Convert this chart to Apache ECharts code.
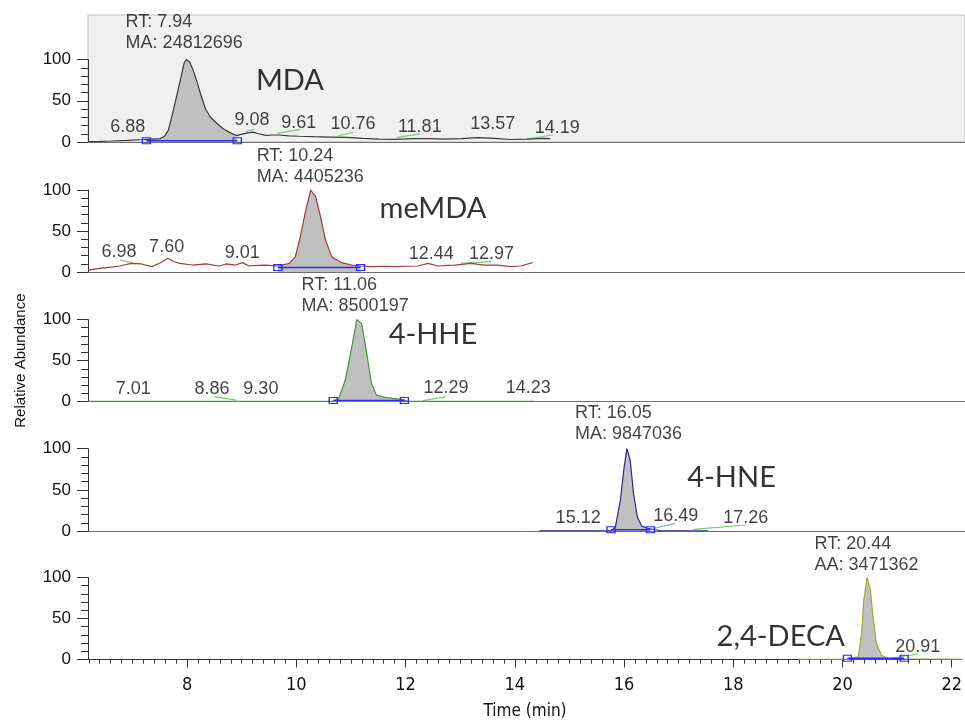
<!DOCTYPE html>
<html>
<head>
<meta charset="utf-8">
<script src="https://cdn.jsdelivr.net/npm/echarts@6.0.0/dist/echarts.min.js"></script>
<style>
html, body { margin: 0; padding: 0; background: #fff; }
#chart { width: 965px; height: 722px; }
</style>
</head>
<body>
<div id="chart"></div>
<script>
// time axis (min)
var timeMin = 6.185;
var timeMax = 22.19;
var timeTicks = [8, 10, 12, 14, 16, 18, 20, 22];
var abundanceTicks = [0, 50, 100];

// traces: [time, relative abundance]
var mdaTrace = [
    [6.185, 0.5], [6.4, 0.8], [6.6, 1.2], [6.9, 2.0], [7.2, 3.0], [7.25, 3.2], [7.5, 4.2], [7.58, 7],
    [7.65, 14], [7.72, 32], [7.8, 55], [7.88, 78], [7.94, 96], [7.98, 100], [8.04, 97], [8.1, 88],
    [8.17, 74], [8.25, 56], [8.33, 40], [8.42, 30], [8.53, 23], [8.65, 16], [8.76, 12], [8.85, 9],
    [8.91, 8], [9.0, 9.5], [9.1, 11], [9.2, 12], [9.3, 10], [9.43, 8], [9.55, 8.5], [9.67, 8.5],
    [9.85, 7.5], [10.04, 7], [10.3, 6.5], [10.6, 6], [10.9, 5.5], [11.2, 4.5], [11.5, 3.6], [11.8, 3.2],
    [12.1, 4.2], [12.4, 4.0], [12.7, 3.6], [13.0, 4.2], [13.3, 5.4], [13.6, 4.4], [13.9, 3.0], [14.2, 3.6],
    [14.5, 4.4], [14.62, 4.2]
];
var memdaTrace = [
    [6.185, 2.4], [6.4, 4.5], [6.6, 6], [6.77, 7.3], [6.9, 9.5], [7.0, 10.6], [7.16, 9.8], [7.35, 6.5],
    [7.5, 11], [7.64, 16.7], [7.76, 12.5], [7.86, 10.6], [8.09, 8.5], [8.34, 9.8], [8.58, 7.3], [8.7, 9.8],
    [8.88, 8.5], [9.0, 11.4], [9.13, 7.3], [9.3, 8], [9.43, 8.5], [9.65, 7.3], [9.86, 10.6], [9.97, 18.7],
    [10.06, 43], [10.16, 75.6], [10.25, 100], [10.34, 92], [10.43, 67], [10.52, 39], [10.63, 18.7], [10.81, 11.4],
    [11.0, 8.5], [11.16, 7.3], [11.36, 6.5], [11.6, 7], [11.79, 6.5], [12.0, 7], [12.21, 7.3], [12.39, 10.6],
    [12.57, 7.3], [12.75, 8], [12.88, 8.5], [13.05, 9.5], [13.17, 10.6], [13.42, 8.5], [13.66, 8.5], [13.9, 6.5],
    [14.08, 7.3], [14.3, 11.4]
];
var hheTrace = [
    [6.185, 0.3], [10.66, 0.5], [10.76, 4], [10.88, 26], [11.0, 66.8], [11.09, 100], [11.18, 95], [11.27, 59],
    [11.36, 22], [11.45, 8], [11.6, 5.3], [11.75, 4], [11.9, 3], [11.96, 2], [12.03, 0.5], [14.33, 0.3]
];
var hneTrace = [
    [14.42, 0.3], [15.73, 0.5], [15.81, 5], [15.9, 37], [15.97, 78], [16.02, 100], [16.08, 86], [16.14, 46],
    [16.21, 17], [16.29, 6], [16.42, 3], [16.45, 2.5], [16.63, 0.3], [17.5, 0.3]
];
var decaTrace = [
    [19.2, 0.3], [20.09, 0.5], [20.29, 3.4], [20.35, 32], [20.39, 72.6], [20.45, 100], [20.51, 85], [20.56, 52],
    [20.62, 20], [20.71, 5.5], [20.83, 1.5], [21.13, 0.8], [22.19, 0.3]
];

// integrated peak windows: [start, end, baseline level]
var mdaWindow = [7.25, 8.91, 1.5];
var memdaWindow = [9.65, 11.16, 5.5];
var hheWindow = [10.66, 11.96, 1.5];
var hneWindow = [15.73, 16.45, 1.5];
var decaWindow = [20.09, 21.13, 1.5];

// peak annotations: [time, height, line 1, line 2]
var mdaPeak = [7.94, 132.7, 'RT: 7.94', 'MA: 24812696'];
var memdaPeak = [10.24, 129, 'RT: 10.24', 'MA: 4405236'];
var hhePeak = [11.06, 128.6, 'RT: 11.06', 'MA: 8500197'];
var hnePeak = [16.05, 130, 'RT: 16.05', 'MA: 9847036'];
var decaPeak = [20.44, 128, 'RT: 20.44', 'AA: 3471362'];

// compound names: [time, height, text]
var mdaName = [9.87, 74.3, 'MDA'];
var memdaName = [12.48, 77, 'meMDA'];
var hheName = [12.48, 81, '4-HHE'];
var hneName = [17.93, 65, '4-HNE'];
var decaName = [18.87, 27.4, '2,4-DECA'];

// minor peak retention time labels: [time, height, text]
var mdaLabels = [[6.91, 18.6, '6.88'], [9.18, 26.7, '9.08'], [10.03, 23.4, '9.61'], [11.02, 21.8, '10.76'],
    [12.24, 18.5, '11.81'], [13.57, 21.8, '13.57'], [14.75, 16.6, '14.19']];
var memdaLabels = [[6.75, 24.8, '6.98'], [7.62, 30.9, '7.60'], [9.0, 23.5, '9.01'], [12.45, 22, '12.44'],
    [13.55, 22, '12.97']];
var hheLabels = [[7.01, 15, '7.01'], [8.45, 15, '8.86'], [9.34, 15, '9.30'], [12.72, 16.3, '12.29'],
    [14.22, 16.3, '14.23']];
var hneLabels = [[15.13, 15.4, '15.12'], [16.91, 18, '16.49'], [18.19, 15.4, '17.26']];
var decaLabels = [[21.38, 15, '20.91']];

// minor peak baselines (green)
var mdaMinor = [[[9.07, 12.5], [9.22, 15.4]], [[9.64, 10.5], [10.06, 15.4]], [[10.76, 7.6], [11.03, 11.8]],
    [[11.82, 5.7], [12.24, 9.7]], [[14.2, 3.6], [14.66, 8.5]]];
var memdaMinor = [[[6.77, 14.6], [7.0, 11.4]], [[12.99, 10.6], [13.54, 12.6]]];
var hheMinor = [[[8.49, 6.1], [8.89, 2]], [[12.3, 1.2], [12.72, 6]]];
var hneMinor = [[[16.5, 3], [16.9, 9.3]], [[17.23, 2], [18.2, 7.3]]];
var decaMinor = [[[20.89, 1.5], [21.38, 6.7]]];

var panels = [
    { trace: mdaTrace, win: mdaWindow, peak: mdaPeak, name: mdaName, labels: mdaLabels, minor: mdaMinor, color: '#3a3a3a' },
    { trace: memdaTrace, win: memdaWindow, peak: memdaPeak, name: memdaName, labels: memdaLabels, minor: memdaMinor, color: '#a53a3a' },
    { trace: hheTrace, win: hheWindow, peak: hhePeak, name: hheName, labels: hheLabels, minor: hheMinor, color: '#3d983d' },
    { trace: hneTrace, win: hneWindow, peak: hnePeak, name: hneName, labels: hneLabels, minor: hneMinor, color: '#2a2a8c' },
    { trace: decaTrace, win: decaWindow, peak: decaPeak, name: decaName, labels: decaLabels, minor: decaMinor, color: '#a6a632' }
];

var panelTop = [59.5, 190, 319.5, 448.7, 577.5];
var panelBottom = [142, 272, 401.7, 531, 659.5];

var minorTicks = [];
for (var t = 62; t <= 222; t += 2) {
    minorTicks.push(t / 10);
}

var textFont = "'Liberation Sans', Arial, sans-serif";
var narrowFont = "'Liberation Sans Narrow', 'DejaVu Sans Condensed', sans-serif";
var nameFont = "Lato, 'Open Sans', sans-serif";

var grids = [], xAxes = [], yAxes = [], series = [];

for (var i = 0; i < panels.length; i++) {
    var p = panels[i];
    var last = i === panels.length - 1;
    grids.push({ left: 88, right: -5, top: panelTop[i], height: panelBottom[i] - panelTop[i] });
    xAxes.push({
        type: 'value', gridIndex: i, position: 'bottom', min: timeMin, max: timeMax,
        axisLine: { lineStyle: { color: last ? '#333' : '#6e6e6e', width: 1 } },
        axisTick: { show: false },
        axisLabel: { show: last, customValues: timeTicks, fontFamily: narrowFont, fontSize: 18, color: '#111', margin: 17 },
        splitLine: { show: false },
        name: last ? 'Time (min)' : '',
        nameLocation: 'middle', nameGap: 44,
        nameTextStyle: { fontFamily: narrowFont, fontSize: 17, color: '#111' }
    });
    yAxes.push({
        type: 'value', gridIndex: i, min: 0, max: 100, interval: 50,
        axisLine: { show: true, lineStyle: { color: '#333' } },
        axisTick: { show: true, length: 11, lineStyle: { color: '#333' } },
        minorTick: { show: true, splitNumber: 5, length: 7, lineStyle: { color: '#333' } },
        axisLabel: { fontFamily: textFont, fontSize: 17, color: '#111', margin: 17 },
        splitLine: { show: false },
        name: i === 2 ? 'Relative Abundance' : '',
        nameLocation: 'middle', nameGap: 60, nameRotate: 90,
        nameTextStyle: { fontFamily: textFont, fontSize: 15, color: '#111' }
    });

    var win = p.win;
    var fill = p.trace.filter(function (d) { return d[0] >= win[0] && d[0] <= win[1]; });

    series.push({
        type: 'line', xAxisIndex: i, yAxisIndex: i, data: fill, showSymbol: false, z: 1,
        lineStyle: { width: 0 }, areaStyle: { color: '#c0c0c0', opacity: 1 }, silent: true
    });
    series.push({
        type: 'line', xAxisIndex: i, yAxisIndex: i, data: p.trace, showSymbol: false, z: 3,
        lineStyle: { color: p.color, width: 1.2 }, silent: true
    });
    series.push({
        type: 'lines', coordinateSystem: 'cartesian2d', xAxisIndex: i, yAxisIndex: i, z: 3,
        data: p.minor.map(function (s) { return { coords: s }; }),
        lineStyle: { color: '#78c878', width: 1.2, opacity: 1 }, silent: true
    });
    series.push({
        type: 'line', xAxisIndex: i, yAxisIndex: i, z: 4,
        data: [[win[0], win[2]], [win[1], win[2]]],
        symbol: 'rect', symbolSize: [8, 6], showSymbol: true,
        lineStyle: { color: '#2b2bff', width: 1.5 },
        itemStyle: { color: 'rgba(0,0,0,0)', borderColor: '#2b2bff', borderWidth: 1.2 }, silent: true
    });
    series.push({
        type: 'scatter', xAxisIndex: i, yAxisIndex: i, data: p.labels, symbolSize: 1, clip: false, z: 5,
        itemStyle: { color: 'rgba(0,0,0,0)' }, silent: true,
        label: {
            show: true, position: 'inside', fontFamily: textFont, fontSize: 18, color: '#111',
            formatter: function (q) { return q.value[2]; }
        }
    });
    series.push({
        type: 'scatter', xAxisIndex: i, yAxisIndex: i, data: [p.peak], symbolSize: 1, clip: false, z: 5,
        itemStyle: { color: 'rgba(0,0,0,0)' }, silent: true,
        label: {
            show: true, position: 'inside', align: 'center',
            formatter: function (q) { return '{a|' + q.value[2] + '}\n{a|' + q.value[3] + '}'; },
            rich: { a: { align: 'left', fontFamily: textFont, fontSize: 18, lineHeight: 21, color: '#111' } }
        }
    });
    series.push({
        type: 'scatter', xAxisIndex: i, yAxisIndex: i, data: [p.name], symbolSize: 1, clip: false, z: 5,
        itemStyle: { color: 'rgba(0,0,0,0)' }, silent: true,
        label: {
            show: true, position: 'inside', fontFamily: nameFont, fontSize: 29, color: '#000',
            formatter: function (q) { return q.value[2]; }
        }
    });
}

// major and minor ticks of the time axis
xAxes.push({
    type: 'value', gridIndex: 4, position: 'bottom', min: timeMin, max: timeMax,
    axisLine: { show: false }, axisLabel: { show: false }, splitLine: { show: false },
    axisTick: { show: true, customValues: minorTicks, length: 4, lineStyle: { color: '#333' } }
});
xAxes.push({
    type: 'value', gridIndex: 4, position: 'bottom', min: timeMin, max: timeMax,
    axisLine: { show: false }, axisLabel: { show: false }, splitLine: { show: false },
    axisTick: { show: true, customValues: timeTicks, length: 8, lineStyle: { color: '#333' } }
});

// shaded box behind the first trace
grids.push({ left: 88, right: -5, top: 15, height: 127, show: true, backgroundColor: '#f0f0f0', borderColor: '#bdbdbd', borderWidth: 1, z: -1 });
xAxes.push({ type: 'value', gridIndex: 5, show: false, min: 0, max: 1 });
yAxes.push({ type: 'value', gridIndex: 5, show: false, min: 0, max: 1 });

var myChart = echarts.init(document.getElementById('chart'));
myChart.setOption({
    animation: false,
    backgroundColor: '#fff',
    grid: grids,
    xAxis: xAxes,
    yAxis: yAxes,
    series: series
});
</script>
</body>
</html>
